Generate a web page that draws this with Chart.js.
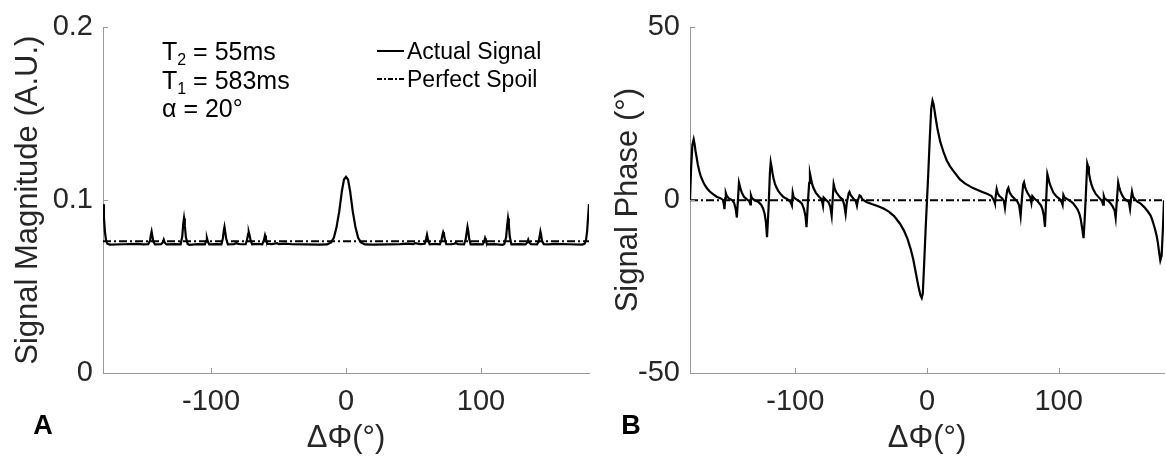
<!DOCTYPE html>
<html><head><meta charset="utf-8">
<script src="https://cdn.jsdelivr.net/npm/chart.js@4.4.1/dist/chart.umd.min.js"></script>
<style>
html,body{margin:0;padding:0;background:#fff;}
#wrap{position:relative;width:1166px;height:458px;overflow:hidden;background:#fff;}
#c1{position:absolute;left:0;top:0;}
#c2{position:absolute;left:600px;top:0;}
</style></head><body>
<div id="wrap"><canvas id="c1" width="600" height="458"></canvas><canvas id="c2" width="566" height="458"></canvas></div>
<script>
// ---------------- data ----------------
const xTicks = [-100, 0, 100];
const magTicks = [0, 0.1, 0.2];
const phaseTicks = [-50, 0, 50];
const spoilX = [-180, 180];
const spoilMag = [0.0762, 0.0762];
const spoilPhase = [0, 0];

const magActual = [
[-180,0.0977],[-179.3,0.090],[-178.6,0.082],[-177.8,0.077],[-176.8,0.0748],[-175,0.0743],[-165,0.0745],[-155,0.0747],[-150,0.0744],
[-146.5,0.0745],[-145.2,0.0765],[-144.5,0.0800],[-144,0.0818],[-143.5,0.0795],[-142.7,0.0760],[-141.5,0.0744],
[-137,0.0745],[-135.8,0.0755],[-135,0.0772],[-134.3,0.0755],[-133,0.0744],[-127,0.0746],
[-122.5,0.0745],[-121.3,0.0790],[-120.6,0.0860],[-120,0.0895],[-119.4,0.0855],[-118.6,0.0785],[-117.3,0.0747],[-116,0.0742],
[-110,0.0746],[-104.5,0.0745],[-103.6,0.0765],[-103,0.0780],[-102.4,0.0762],[-101.3,0.0744],[-96,0.0746],
[-92.3,0.0745],[-91.2,0.0780],[-90.5,0.0825],[-90,0.0846],[-89.5,0.0820],[-88.7,0.0775],[-87.5,0.0744],
[-83,0.0746],[-81,0.0752],[-80.3,0.0748],[-78,0.0745],
[-74.3,0.0745],[-73.2,0.0775],[-72.5,0.0805],[-72,0.0815],[-71.5,0.0800],[-70.7,0.0768],[-69.5,0.0744],
[-66,0.0747],[-62,0.0745],[-60.8,0.0768],[-60,0.0796],[-59.3,0.0775],[-58.3,0.0748],[-55,0.0746],[-51,0.0752],[-50,0.0746],
[-45,0.0749],[-40,0.0745],[-30,0.0744],[-20,0.0743],[-14,0.0744],[-11,0.0756],[-9,0.0782],[-7,0.0845],[-5,0.0935],[-3,0.1055],[-1.5,0.1120],[0,0.1135],
[1.5,0.1120],[3,0.1055],[5,0.0935],[7,0.0845],[9,0.0782],[11,0.0756],[14,0.0744],[20,0.0743],[30,0.0744],[40,0.0746],[45,0.0749],
[50,0.0746],[51,0.0752],[55,0.0746],[58.3,0.0748],[59.3,0.0775],[60,0.0800],[60.8,0.0770],[62,0.0745],[66,0.0747],
[69.5,0.0744],[70.7,0.0768],[71.5,0.0800],[72,0.0815],[72.5,0.0805],[73.2,0.0775],[74.3,0.0745],
[78,0.0745],[80.3,0.0748],[81,0.0752],[83,0.0746],
[87.5,0.0744],[88.7,0.0775],[89.5,0.0820],[90,0.0846],[90.5,0.0825],[91.2,0.0780],[92.3,0.0745],
[96,0.0746],[101.3,0.0744],[102.4,0.0762],[103,0.0780],[103.6,0.0765],[104.5,0.0745],[110,0.0746],
[116,0.0742],[117.3,0.0747],[118.6,0.0785],[119.4,0.0855],[120,0.0895],[120.6,0.0860],[121.3,0.0790],[122.5,0.0745],
[127,0.0746],[133,0.0744],[134.3,0.0755],[135,0.0772],[135.8,0.0755],[137,0.0745],
[141.5,0.0744],[142.7,0.0760],[143.5,0.0795],[144,0.0818],[144.5,0.0800],[145.2,0.0765],[146.5,0.0745],
[150,0.0744],[155,0.0747],[165,0.0745],[175,0.0743],[176.8,0.0748],[177.8,0.0770],[178.6,0.0820],[179.3,0.0900],[180,0.0977]
];

const phaseActual = [
[-180,0],[-179.2,9],[-178.2,16],[-177.2,17.6],[-176.5,16.2],[-175.8,14.2],[-175,12.5],[-174,10.2],[-173,8.5],[-172,7.2],[-171,6.2],[-170,5.3],[-168.5,4.2],[-167,3.4],[-165,2.5],[-162,1.6],[-159.7,1.0],[-157,0.6],[-155,0.1],
[-154.3,-1.2],[-153.8,-2.6],[-153.3,0.5],[-152.8,2.1],[-152,1.2],[-150.5,0.5],[-148,0],[-146.5,-0.8],[-145.3,-2.5],[-144.4,-5.0],[-143.6,0],[-142.8,5.1],[-142.2,4.2],[-141.5,3.1],[-140.5,2.1],[-139,1.0],[-137,0.3],
[-135,-0.3],[-134.2,-1.2],[-133.7,1.4],[-133,0.6],[-131,0],[-128,-0.5],[-126,-1.3],[-124.5,-2.4],[-123.3,-4],[-122.3,-6.5],[-121.5,-10.7],[-120.3,-2],[-119.3,8],[-118.7,11],[-118.1,9.8],[-117.3,7.8],[-116.5,6.2],[-115.5,4.8],[-114.5,3.8],[-113,2.7],[-111,1.7],[-109,0.9],[-106,0.3],
[-103.5,-0.6],[-102.6,-1.5],[-102,2.2],[-101.2,0.8],[-99.5,0.3],[-97,-0.3],[-95,-1],[-93.5,-2.5],[-92.3,-4.6],[-91.5,-7.8],[-90.5,-1],[-89.5,5],[-88.9,7.7],[-88.2,6.4],[-87.3,4.8],[-86.3,3.6],[-84.5,2.2],[-82,1.0],[-80,0.3],
[-79,-1.6],[-78.5,0.8],[-77,0.2],[-75,-0.5],[-73.5,-1.8],[-72.4,-4.5],[-71.6,0.5],[-70.9,4.7],[-70.2,3.6],[-69.2,2.5],[-68,1.8],[-66,0.8],[-64,0.2],[-62.8,-1.5],[-61.8,-4],[-61,-1],[-59.5,2],[-58.9,2.4],[-58,1.5],[-56,0.5],
[-54,-0.3],[-53.2,-1.6],[-52.5,0],[-51.2,1.4],[-50.4,1.2],[-49,0.2],[-46,-0.5],[-42,-1.1],[-37.6,-1.7],[-33,-2.4],[-29,-3.3],[-25,-4.6],[-20.5,-6.8],[-17.5,-8.8],[-14.8,-11.2],[-12.5,-14],[-10.5,-17],[-8.5,-21],[-6.5,-25],[-5,-27.5],[-4,-28.3],[-3.2,-27],[-2,-17],[-1,-8],[0,0],
[1,8],[2,17],[3.2,26.5],[4.2,28.8],[5,27.8],[6.5,24],[8,20.5],[10,17],[12.5,14],[15,11.5],[17.5,9.8],[20,8.5],[25,6.0],[29,4.8],[35,3.5],[42,2.4],[46,1.8],[49,1.2],
[51,-0.2],[51.6,-0.9],[52.3,1.5],[52.9,3.2],[53.7,2.0],[55,1.2],[57,0.6],[58.4,-0.3],[59.2,-2.2],[60,0.5],[61,3.0],[61.8,3.6],[62.8,2.2],[64.5,1.2],[66.5,0.4],[68.5,-0.3],[70,-1.5],[71.1,-4.6],[72,0],[73,4.5],[73.7,5.2],[74.5,3.8],[75.5,2.8],[76.5,2.0],[78.5,0.8],
[79.3,-0.8],[80,1.2],[81.5,0.5],[84,-0.3],[86.5,-1.5],[87.7,-2.6],[88.7,-4.4],[89.6,-7.7],[90.5,0],[91.4,7.6],[92.1,6.6],[93,5.0],[94,4.0],[96,2.2],[98.5,1.0],[101,0.3],[102.3,-0.6],[103,-1.4],[103.6,1.5],[104.4,0.8],[106.5,0.3],
[109,-0.3],[111,-0.9],[113,-1.9],[114.5,-2.8],[115.8,-4],[116.8,-5.6],[118,-8.5],[118.9,-11],[119.7,-6],[120.7,2],[121.7,10.6],[122.3,9.8],[123,7.8],[124,5.8],[125,4.4],[126,3.4],[128,1.9],[131,0.6],[133,-0.3],[133.7,-1.3],[134.3,1.2],[135,0.4],[137,0],
[139,-0.7],[141,-1.8],[142.5,-3.0],[143.3,-5.1],[144.2,0],[145.2,5.1],[145.9,3.9],[146.8,2.7],[148,1.6],[149.5,0.6],[152,-0.2],[153.3,-0.5],[154.2,-2.5],[155,0.5],[155.7,2.5],[156.5,1.0],[158,0.2],
[160,-0.5],[162,-0.9],[165,-2.0],[167,-2.9],[168.5,-3.7],[170,-4.6],[171,-5.6],[172,-6.8],[173.2,-8.4],[174.4,-10.3],[175.3,-12.2],[176.2,-14.8],[177.2,-17.4],[178.2,-16],[179.2,-8],[180,0]
];

// ---------------- styling ----------------
const FONT = '"Liberation Sans", Arial, Helvetica, sans-serif';
const AXIS_COLOR = '#9a9a9a';
const TEXT_COLOR = '#262626';
const DASH = [8, 3, 2, 3];

const toPts = arr => arr.map(p => ({x: p[0], y: p[1]}));
const pairPts = (xs, ys) => xs.map((x, i) => ({x, y: ys[i]}));

const innerTicks = {
  id: 'innerTicks',
  afterDraw(chart) {
    const {ctx, chartArea: a, scales: {x, y}} = chart;
    ctx.save();
    ctx.strokeStyle = AXIS_COLOR; ctx.lineWidth = 1;
    x.ticks.forEach(t => {
      const px = Math.round(x.getPixelForValue(t.value)) + 0.5;
      ctx.beginPath(); ctx.moveTo(px, a.bottom); ctx.lineTo(px, a.bottom - 5); ctx.stroke();
    });
    y.ticks.forEach(t => {
      const py = Math.round(y.getPixelForValue(t.value)) + 0.5;
      ctx.beginPath(); ctx.moveTo(a.left, py); ctx.lineTo(a.left + 5, py); ctx.stroke();
    });
    ctx.restore();
  }
};

function panelLetter(letter, x, y) {
  return {
    id: 'letter' + letter,
    afterDraw(chart) {
      const ctx = chart.ctx;
      ctx.save();
      ctx.fillStyle = '#000';
      ctx.font = 'bold 27px ' + FONT;
      ctx.textAlign = 'center'; ctx.textBaseline = 'middle';
      ctx.fillText(letter, x, y);
      ctx.restore();
    }
  };
}

const annotations = {
  id: 'annotations',
  afterDraw(chart) {
    const ctx = chart.ctx;
    ctx.save();
    ctx.fillStyle = '#000';
    ctx.textBaseline = 'alphabetic';
    ctx.textAlign = 'left';
    const big = '25px ' + FONT, small = '16px ' + FONT;
    function sub(x, y, main, s, rest) {
      ctx.font = big; ctx.fillText(main, x, y);
      let w = ctx.measureText(main).width;
      ctx.font = small; ctx.fillText(s, x + w, y + 5);
      w += ctx.measureText(s).width;
      ctx.font = big; ctx.fillText(rest, x + w, y);
    }
    sub(162, 60, 'T', '2', ' = 55ms');
    sub(162, 89, 'T', '1', ' = 583ms');
    ctx.font = big; ctx.fillText('\u03B1 = 20\u00B0', 162, 117);
    // legend
    ctx.strokeStyle = '#000'; ctx.lineWidth = 2;
    ctx.beginPath(); ctx.moveTo(377, 51); ctx.lineTo(404, 51); ctx.stroke();
    ctx.setLineDash([5, 2, 2, 2]);
    ctx.beginPath(); ctx.moveTo(377, 79); ctx.lineTo(404, 79); ctx.stroke();
    ctx.setLineDash([]);
    ctx.font = '23px ' + FONT;
    ctx.fillText('Actual Signal', 407, 59);
    ctx.fillText('Perfect Spoil', 407, 87);
    ctx.restore();
  }
};

function makeOptions(yMin, yMax, yStep, yTitle, yAxisWidth, rightPad) {
  return {
    responsive: false,
    animation: false,
    devicePixelRatio: 1,
    layout: {padding: {top: 23, right: rightPad, left: 0, bottom: 0}},
    plugins: {legend: {display: false}, tooltip: {enabled: false}},
    elements: {point: {radius: 0}, line: {tension: 0}},
    scales: {
      x: {
        type: 'linear', min: -180, max: 180,
        afterFit: s => { s.height = 85; },
        afterBuildTicks: s => { s.ticks = xTicks.map(v => ({value: v})); },
        ticks: {stepSize: 100, includeBounds: false, color: TEXT_COLOR, font: {family: FONT, size: 29}, padding: 12, maxRotation: 0},
        grid: {display: true, drawOnChartArea: false, drawTicks: false},
        border: {display: true, color: AXIS_COLOR, width: 1},
        title: {display: true, text: '\u0394\u03A6(\u00B0)', color: TEXT_COLOR, font: {family: FONT, size: 31}, padding: {top: 0, bottom: 1}}
      },
      y: {
        type: 'linear', min: yMin, max: yMax,
        afterFit: s => { s.width = yAxisWidth; },
        ticks: {stepSize: yStep, color: TEXT_COLOR, font: {family: FONT, size: 29}, padding: 10},
        grid: {display: true, drawOnChartArea: false, drawTicks: false},
        border: {display: true, color: AXIS_COLOR, width: 1},
        title: {display: true, text: yTitle, color: TEXT_COLOR, font: {family: FONT, size: 31}, padding: {top: 10, bottom: 0}}
      }
    }
  };
}

const optA = makeOptions(0, 0.2, 0.1, 'Signal Magnitude (A.U.)', 103, 11);
optA.scales.y.afterBuildTicks = s => { s.ticks = magTicks.map(v => ({value: v})); };
new Chart(document.getElementById('c1'), {
  type: 'line',
  data: {datasets: [
    {label: 'Perfect Spoil', data: pairPts(spoilX, spoilMag), borderColor: '#000', borderWidth: 2, borderDash: DASH, order: 0},
    {label: 'Actual Signal', data: toPts(magActual), borderColor: '#000', borderWidth: 2.2, order: 1}
  ]},
  options: optA,
  plugins: [innerTicks, annotations, panelLetter('A', 43, 427)]
});

const optB = makeOptions(-50, 50, 50, 'Signal Phase (\u00B0)', 90, 2);
optB.scales.y.afterBuildTicks = s => { s.ticks = phaseTicks.map(v => ({value: v})); };
new Chart(document.getElementById('c2'), {
  type: 'line',
  data: {datasets: [
    {label: 'Perfect Spoil', data: pairPts(spoilX, spoilPhase), borderColor: '#000', borderWidth: 2, borderDash: DASH, order: 0},
    {label: 'Actual Signal', data: toPts(phaseActual), borderColor: '#000', borderWidth: 2.2, order: 1}
  ]},
  options: optB,
  plugins: [innerTicks, panelLetter('B', 31, 427)]
});
</script>
</body></html>
